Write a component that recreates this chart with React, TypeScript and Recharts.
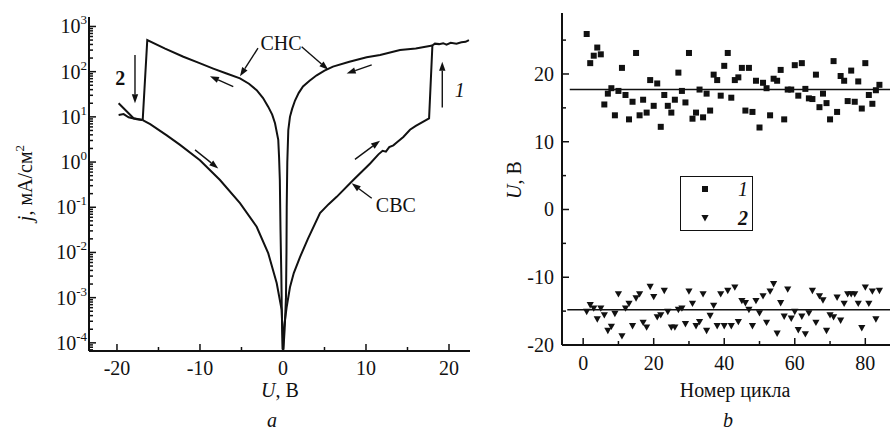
import React from "react";
import {
  LineChart,
  Line,
  XAxis,
  YAxis,
  ReferenceLine,
  ReferenceDot,
  ScatterChart,
  Scatter,
  Legend,
} from "recharts";

const FONT = "Liberation Serif, DejaVu Serif, serif";
const INK = "#111";

// ---- panel a: j(U) loop, pairs [U, В ; j, мА/см2] ----
const svcPositive: [number, number][] = [
  [0.02, 7.1e-5], [0.1, 2.0e-4], [0.45, 6.3e-4], [0.84, 1.7e-3], [1.3, 3.5e-3],
  [2.05, 7.9e-3], [3.0, 2.0e-2], [4.46, 7.4e-2], [5.5, 0.117], [6.47, 0.17],
  [8.47, 0.4], [10.5, 0.93], [11.5, 1.48], [12.0, 1.78], [12.4, 1.7],
  [12.8, 2.14], [13.3, 2.34], [13.7, 2.7], [14.5, 3.6], [15.3, 5.2],
  [16.0, 6.3], [17.6, 9.3], [18.0, 380], [18.3, 417], [18.8, 407],
  [19.3, 427], [19.7, 398], [20.2, 437], [20.9, 417], [21.5, 447],
  [22.0, 457], [22.4, 500],
];

const snsPositive: [number, number][] = [
  [18.0, 380], [16.0, 324], [14.1, 302], [11.7, 234], [10.08, 209],
  [8.0, 166], [6.02, 129], [5.0, 105], [4.06, 83], [3.2, 63],
  [2.41, 47], [1.9, 34], [1.45, 23], [1.1, 15], [0.84, 10],
  [0.64, 5.1], [0.52, 1.0], [0.45, 0.1], [0.42, 0.01], [0.36, 1.0e-3],
  [0.2, 2.0e-4], [0.05, 7.1e-5],
];

const snsNegative: [number, number][] = [
  [-0.05, 7.1e-5], [-0.14, 5.0e-4], [-0.2, 3.2e-3], [-0.3, 3.2e-2], [-0.38, 0.4],
  [-0.47, 1.26], [-0.57, 3.1], [-0.96, 7.2], [-1.3, 11.2], [-1.77, 16.6],
  [-2.4, 26], [-3.17, 39], [-4.1, 54], [-5.18, 71], [-6.8, 91],
  [-8.4, 117], [-10.2, 158], [-12.0, 214], [-14.2, 324], [-16.35, 500],
  [-16.9, 8.5],
];

const svcNegative: [number, number][] = [
  [-16.9, 8.5], [-16.0, 6.9], [-14.0, 3.9], [-12.4, 2.4], [-10.0, 1.1],
  [-7.59, 0.4], [-5.18, 0.123], [-3.17, 0.037], [-1.77, 9.5e-3], [-0.76, 2.1e-3],
  [-0.16, 5.4e-4], [-0.03, 1.26e-4], [0, 7.1e-5],
];

const tailUpper: [number, number][] = [
  [-19.8, 20], [-19.2, 15.5], [-18.6, 12], [-18.0, 9.3], [-16.9, 8.5],
];
const tailLower: [number, number][] = [
  [-19.8, 11], [-19.2, 11.5], [-18.6, 9.8], [-17.6, 8.9], [-16.9, 8.5],
];

// arrows: [u1, j1, u2, j2], head at the second point
const loopArrows: [number, number, number, number][] = [
  [-3.01, 331, -5.18, 79],
  [2.25, 355, 5.46, 110],
  [10.69, 0.158, 8.28, 0.339],
  [-5.99, 46.8, -8.8, 79.4],
  [10.69, 141, 7.67, 91],
  [-10.6, 1.86, -7.8, 0.72],
  [8.67, 1.15, 11.69, 2.95],
  [19.19, 16.2, 19.19, 166],
  [-17.83, 234, -17.83, 20],
];
const loopLabels: { u: number; j: number; text: string; italic?: boolean; bold?: boolean }[] = [
  { u: -0.24, j: 427, text: "СНС" },
  { u: 13.6, j: 0.112, text: "СВС" },
  { u: 21.3, j: 38.9, text: "1", italic: true },
  { u: -19.6, j: 72, text: "2", bold: true },
];

// ---- panel b: switching voltage per cycle ----
const setVoltages = [
  25.9, 21.6, 22.7, 23.9, 22.9, 15.5, 17.1, 17.9, 13.9, 17.5,
  20.9, 16.9, 13.3, 15.9, 23.1, 13.9, 16.2, 14.3, 19.1, 15.3,
  18.6, 12.2, 16.9, 15.3, 14.3, 16.2, 20.2, 17.5, 15.8, 23.1,
  13.4, 14.3, 17.7, 13.6, 17.1, 14.6, 19.9, 19.1, 16.8, 21.2,
  23.1, 16.5, 19.1, 19.5, 20.9, 14.6, 20.9, 14.4, 19.0, 12.1,
  18.7, 17.9, 13.9, 19.3, 19.0, 20.6, 13.3, 17.7, 17.7, 21.3,
  16.8, 21.6, 17.8, 16.4, 16.3, 19.9, 15.1, 17.1, 15.7, 13.3,
  21.9, 14.4, 19.7, 19.0, 16.0, 20.5, 15.9, 18.9, 14.9, 21.6,
  16.9, 15.6, 17.6, 18.4,
];
const resetVoltages = [
  -15.1, -14.1, -14.6, -16.2, -14.6, -15.6, -17.9, -17.3, -15.4, -12.5,
  -18.7, -14.6, -13.9, -17.2, -13.1, -12.5, -16.7, -17.4, -11.4, -12.9,
  -15.9, -15.6, -12.0, -15.1, -17.4, -17.4, -14.8, -14.6, -16.9, -12.1,
  -13.9, -17.2, -16.6, -12.5, -17.9, -15.7, -14.2, -17.2, -12.5, -17.2,
  -12.0, -17.2, -11.5, -16.6, -13.5, -13.8, -14.8, -17.2, -13.5, -15.3,
  -12.8, -16.7, -12.1, -11.0, -18.3, -13.8, -15.8, -11.8, -16.1, -15.1,
  -17.8, -15.8, -18.4, -15.3, -12.0, -16.7, -12.8, -13.4, -17.9, -15.6,
  -15.9, -13.0, -16.4, -13.9, -12.5, -12.5, -12.5, -13.9, -17.5, -11.5,
  -13.9, -12.1, -16.2, -12.0,
];
const setMean = 17.7;
const resetMean = -14.8;

const toLoop = (arr: [number, number][]) => arr.map(([u, j]) => ({ u, j }));
const toCycles = (arr: number[]) => arr.map((v, i) => ({ cycle: i + 1, v }));

const logMinor: number[] = [];
for (let d = -5; d <= 3; d++) {
  for (let m = 1; m <= 9; m++) {
    const v = m * Math.pow(10, d);
    if (v >= 6.8e-5 && v <= 1600) logMinor.push(Number(v.toPrecision(3)));
  }
}

const LogTick = (props: any) => {
  const { x, y, payload } = props;
  const e = Math.log10(payload.value);
  const major = Math.abs(e - Math.round(e)) < 1e-6;
  return (
    <g>
      <line x1={x} x2={x + (major ? 7 : 4)} y1={y} y2={y} stroke={INK} strokeWidth={1.5} />
      {major && (
        <text x={x - 2} y={y + 7} textAnchor="end" fontFamily={FONT} fontSize={20} fill={INK}>
          10
          <tspan dy={-9} fontSize={13}>
            {Math.round(e)}
          </tspan>
        </text>
      )}
    </g>
  );
};

const makeBottomTick = (every: number, gap: number) => (props: any) => {
  const { x, y, payload } = props;
  const major = payload.value % every === 0;
  return (
    <g>
      <line x1={x} x2={x} y1={y} y2={y - (major ? 7 : 4)} stroke={INK} strokeWidth={1.5} />
      {major && (
        <text x={x} y={y + gap} textAnchor="middle" fontFamily={FONT} fontSize={20} fill={INK}>
          {payload.value}
        </text>
      )}
    </g>
  );
};

const makeLeftTick = (every: number) => (props: any) => {
  const { x, y, payload } = props;
  const major = payload.value % every === 0;
  return (
    <g>
      <line x1={x} x2={x + (major ? 7 : 4)} y1={y} y2={y} stroke={INK} strokeWidth={1.5} />
      {major && (
        <text x={x - 8} y={y + 7} textAnchor="end" fontFamily={FONT} fontSize={20} fill={INK}>
          {payload.value}
        </text>
      )}
    </g>
  );
};

const ArrowShape = (props: any) => {
  const { x1, y1, x2, y2 } = props;
  const a = Math.atan2(y2 - y1, x2 - x1);
  const len = 9;
  const w = 3.2;
  const bx = x2 - len * Math.cos(a);
  const by = y2 - len * Math.sin(a);
  const px = -Math.sin(a) * w;
  const py = Math.cos(a) * w;
  return (
    <g>
      <line x1={x1} y1={y1} x2={bx} y2={by} stroke={INK} strokeWidth={1.4} />
      <polygon points={`${x2},${y2} ${bx + px},${by + py} ${bx - px},${by - py}`} fill={INK} />
    </g>
  );
};

const SquareMark = (p: any) => <rect x={p.cx - 3} y={p.cy - 3} width={6} height={6} fill={INK} />;
const TriangleMark = (p: any) => (
  <polygon
    points={`${p.cx - 3.6},${p.cy - 3} ${p.cx + 3.6},${p.cy - 3} ${p.cx},${p.cy + 3.4}`}
    fill={INK}
  />
);

const LegendBox = (props: any) => {
  const items = props.payload ?? [];
  return (
    <div
      style={{
        width: 73,
        height: 55,
        border: `1.5px solid ${INK}`,
        boxSizing: "border-box",
        background: "#fff",
      }}
    >
      <svg width={70} height={52}>
        {items.map((it: any, i: number) => {
          const cy = 12 + i * 29;
          return (
            <g key={i}>
              {i === 0 ? SquareMark({ cx: 24, cy }) : TriangleMark({ cx: 24, cy })}
              <text
                x={62}
                y={cy + 7}
                textAnchor="middle"
                fontFamily={FONT}
                fontSize={20}
                fontStyle="italic"
                fontWeight={i === 1 ? "bold" : "normal"}
                fill={INK}
              >
                {it.value}
              </text>
            </g>
          );
        })}
      </svg>
    </div>
  );
};

const loopSeries = [svcPositive, snsPositive, snsNegative, svcNegative, tailUpper, tailLower];

export default function App() {
  return (
    <div style={{ position: "absolute", left: 0, top: 0, width: 891, height: 432, background: "#fff" }}>
      <div style={{ position: "absolute", left: 0, top: 0 }}>
        <LineChart width={480} height={432} margin={{ top: 17, right: 10, bottom: 51, left: 29 }}>
          <XAxis
            type="number"
            dataKey="u"
            domain={[-23.37, 22.53]}
            allowDataOverflow
            ticks={[-20, -15, -10, -5, 0, 5, 10, 15, 20]}
            interval={0}
            height={30}
            tickSize={0}
            tickMargin={0}
            tickLine={false}
            axisLine={{ stroke: INK, strokeWidth: 2 }}
            tick={makeBottomTick(10, 24)}
          />
          <YAxis
            type="number"
            dataKey="j"
            scale="log"
            domain={[6.6e-5, 1620]}
            allowDataOverflow
            ticks={logMinor}
            interval={0}
            width={60}
            tickSize={0}
            tickMargin={0}
            tickLine={false}
            axisLine={{ stroke: INK, strokeWidth: 2 }}
            tick={LogTick}
          />
          {loopSeries.map((s, i) => (
            <Line
              key={i}
              data={toLoop(s)}
              dataKey="j"
              type="linear"
              stroke={INK}
              strokeWidth={2}
              dot={false}
              isAnimationActive={false}
            />
          ))}
          {loopArrows.map(([u1, j1, u2, j2], i) => (
            <ReferenceLine
              key={`a${i}`}
              segment={[
                { x: u1, y: j1 },
                { x: u2, y: j2 },
              ]}
              shape={ArrowShape}
            />
          ))}
          {loopLabels.map((l, i) => (
            <ReferenceDot
              key={`l${i}`}
              x={l.u}
              y={l.j}
              r={0}
              shape={(p: any) => (
                <text
                  x={p.cx}
                  y={p.cy + 7}
                  textAnchor="middle"
                  fontFamily={FONT}
                  fontSize={20}
                  fontStyle={l.italic ? "italic" : "normal"}
                  fontWeight={l.bold ? "bold" : "normal"}
                  fill={INK}
                >
                  {l.text}
                </text>
              )}
            />
          ))}
        </LineChart>
      </div>

      <div style={{ position: "absolute", left: 480, top: 0 }}>
        <ScatterChart width={411} height={432} margin={{ top: 13, right: 1, bottom: 57, left: 22 }}>
          <XAxis
            type="number"
            dataKey="cycle"
            domain={[-6, 87]}
            allowDataOverflow
            ticks={[0, 10, 20, 30, 40, 50, 60, 70, 80]}
            interval={0}
            height={30}
            tickSize={0}
            tickMargin={0}
            tickLine={false}
            axisLine={{ stroke: INK, strokeWidth: 2 }}
            tick={makeBottomTick(20, 25)}
          />
          <YAxis
            type="number"
            dataKey="v"
            domain={[-20, 29]}
            allowDataOverflow
            ticks={[-20, -15, -10, -5, 0, 5, 10, 15, 20, 25]}
            interval={0}
            width={60}
            tickSize={0}
            tickMargin={0}
            tickLine={false}
            axisLine={{ stroke: INK, strokeWidth: 2 }}
            tick={makeLeftTick(10)}
          />
          <ReferenceLine
            segment={[
              { x: -3.8, y: setMean },
              { x: 87, y: setMean },
            ]}
            stroke={INK}
            strokeWidth={1.5}
          />
          <ReferenceLine
            segment={[
              { x: -4.5, y: resetMean },
              { x: 87, y: resetMean },
            ]}
            stroke={INK}
            strokeWidth={1.5}
          />
          <Scatter name="1" data={toCycles(setVoltages)} fill={INK} shape={SquareMark} isAnimationActive={false} />
          <Scatter name="2" data={toCycles(resetVoltages)} fill={INK} shape={TriangleMark} isAnimationActive={false} />
          <Legend
            layout="vertical"
            align="center"
            verticalAlign="middle"
            content={LegendBox}
            wrapperStyle={{ position: "absolute", left: 200, top: 176, width: 73, height: 55 }}
          />
        </ScatterChart>
      </div>

      <svg
        width={891}
        height={432}
        style={{ position: "absolute", left: 0, top: 0, pointerEvents: "none" }}
        fontFamily={FONT}
        fontSize={20}
        fill={INK}
      >
        <text transform="translate(32,183) rotate(-90)" textAnchor="middle">
          <tspan fontStyle="italic">j</tspan>, мА/см
          <tspan dy={-8} fontSize={13}>
            2
          </tspan>
        </text>
        <text x={280} y={397} textAnchor="middle">
          <tspan fontStyle="italic">U</tspan>, В
        </text>
        <text x={272} y={427} textAnchor="middle" fontStyle="italic">
          a
        </text>
        <text transform="translate(521,180) rotate(-90)" textAnchor="middle">
          <tspan fontStyle="italic">U</tspan>, В
        </text>
        <text x={735} y={397} textAnchor="middle">
          Номер цикла
        </text>
        <text x={728} y={427} textAnchor="middle" fontStyle="italic">
          b
        </text>
      </svg>
    </div>
  );
}
